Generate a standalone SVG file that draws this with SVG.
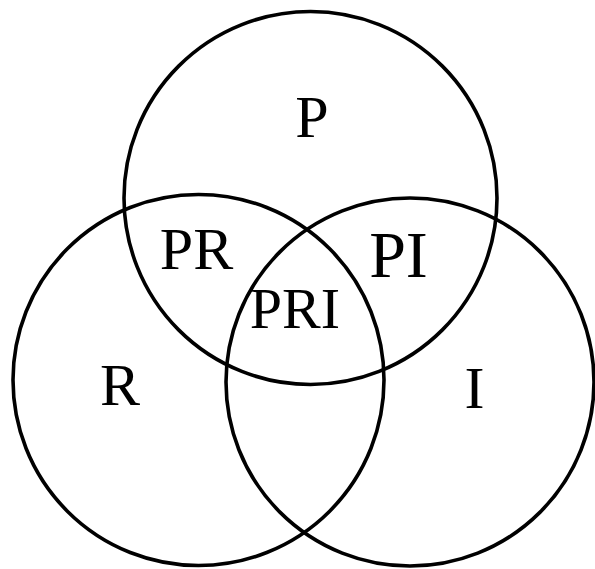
<svg xmlns="http://www.w3.org/2000/svg" width="595" height="569" viewBox="0 0 595 569">
<style>
.c{fill:none;stroke:#000;stroke-width:3.6}
.t{font-family:'Liberation Serif',Tinos,'Times New Roman',Times,serif;fill:#000;text-anchor:middle;font-size:60px}
</style>
<rect width="595" height="569" fill="#fff"/>
<g id="P"><circle class="c" cx="310.5" cy="198" r="186.5"/><text class="t" x="312" y="137">P</text></g>
<g id="R"><circle class="c" cx="198.5" cy="380" r="185.5"/><text class="t" x="120" y="405">R</text></g>
<g id="I"><circle class="c" cx="410" cy="382" r="184"/><text class="t" x="474.5" y="408">I</text></g>
<g id="PR"><text class="t" x="196.5" y="269">PR</text></g>
<g id="PI"><text class="t" x="398.5" y="277" style="font-size:66px">PI</text></g>
<g id="PRI"><text class="t" x="295" y="328" style="font-size:58px">PRI</text></g>
<g id="connectors"></g>
</svg>
